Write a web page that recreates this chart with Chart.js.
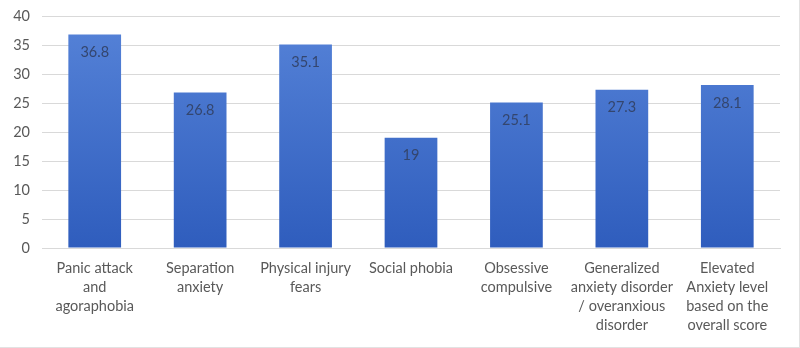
<!DOCTYPE html>
<html>
<head>
<meta charset="utf-8">
<script src="https://cdn.jsdelivr.net/npm/chart.js@4"></script>
<style>
  html, body { margin: 0; padding: 0; background: #fff; }
  #wrap { position: relative; width: 800px; height: 348px; box-sizing: border-box; border-right: 1px solid #e2e2e2; border-bottom: 1px solid #e2e2e2; }
  canvas { display: block; }
</style>
</head>
<body>
<div id="wrap"><canvas id="c" width="799" height="347"></canvas></div>
<script>
const categories = [
  ["Panic attack", "and", "agoraphobia"],
  ["Separation", "anxiety"],
  ["Physical injury", "fears"],
  ["Social phobia"],
  ["Obsessive", "compulsive"],
  ["Generalized", "anxiety disorder", "/ overanxious", "disorder"],
  ["Elevated", "Anxiety level", "based on the", "overall score"]
];
const values = [36.8, 26.8, 35.1, 19, 25.1, 27.3, 28.1];
const valueLabels = ["36.8", "26.8", "35.1", "19", "25.1", "27.3", "28.1"];
const yMin = 0, yMax = 40, yStep = 5;

const FONT = "Lato, 'Open Sans', sans-serif";

const valuePlugin = {
  id: 'valueLabels',
  afterDatasetsDraw(chart) {
    const ctx = chart.ctx;
    const meta = chart.getDatasetMeta(0);
    ctx.save();
    ctx.font = "14.5px " + FONT;
    ctx.fillStyle = "#34466e";
    ctx.textAlign = "center";
    ctx.textBaseline = "middle";
    meta.data.forEach((bar, i) => {
      ctx.fillText(valueLabels[i], bar.x, bar.y + 18);
    });
    ctx.restore();
  }
};

new Chart(document.getElementById('c'), {
  type: 'bar',
  data: {
    labels: categories,
    datasets: [{
      data: values,
      backgroundColor(context) {
        const chart = context.chart;
        const area = chart.chartArea;
        if (!area) return '#4472c4';
        const g = chart.ctx.createLinearGradient(0, area.top, 0, area.bottom);
        g.addColorStop(0, '#5683d8');
        g.addColorStop(1, '#2f5dbd');
        return g;
      },
      borderWidth: 0,
      categoryPercentage: 1,
      barPercentage: 0.5
    }]
  },
  options: {
    responsive: false,
    animation: false,
    devicePixelRatio: 1,
    layout: { padding: { top: 16, right: 19, left: 0, bottom: 0 } },
    plugins: { legend: { display: false }, tooltip: { enabled: false } },
    scales: {
      x: {
        grid: { display: false, drawTicks: false },
        border: { display: true, color: '#d9d9d9', width: 1 },
        ticks: {
          color: '#595959',
          font: { family: FONT, size: 14.5, lineHeight: 1.31 },
          padding: 11,
          maxRotation: 0,
          autoSkip: false
        },
        afterFit(scale) { scale.height = 99; scale.paddingTop = 0; scale.paddingBottom = 0; }
      },
      y: {
        min: yMin, max: yMax,
        grid: { color: '#d9d9d9', drawTicks: false },
        border: { display: false },
        ticks: {
          stepSize: yStep,
          color: '#595959',
          font: { family: FONT, size: 14.5 },
          padding: 12
        },
        afterFit(scale) { scale.width = 42; scale.paddingTop = 0; scale.paddingBottom = 0; }
      }
    }
  },
  plugins: [valuePlugin]
});
</script>
</body>
</html>
